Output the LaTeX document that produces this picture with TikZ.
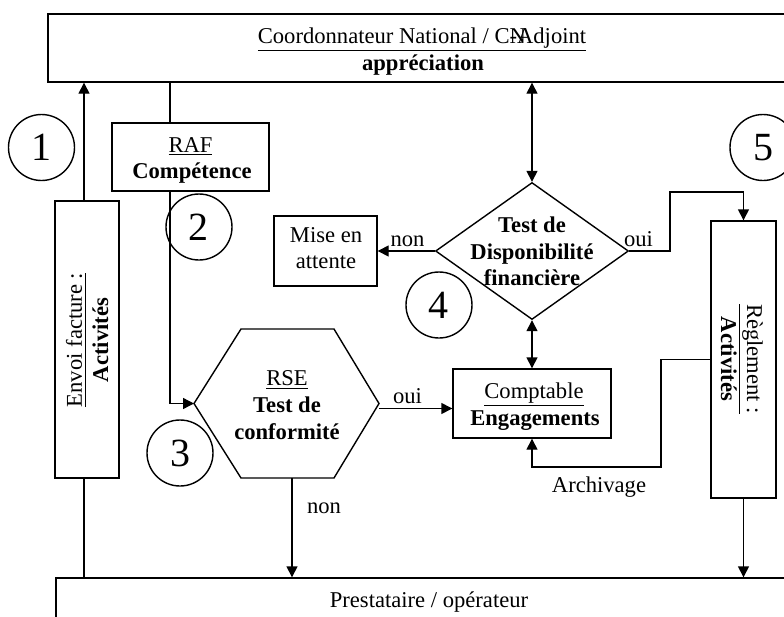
\documentclass[tikz,border=0pt]{standalone}
\usepackage{fontspec}
\setmainfont{Liberation Serif}
\usetikzlibrary{arrows.meta,shapes.geometric}
\begin{document}
\begin{tikzpicture}[x=0.5pt,y=-0.5pt,
  every node/.style={font=\fontsize{11.3}{13.6}\selectfont},
  pbox/.style={draw, line width=0.7pt, inner sep=0pt, rectangle},
  tx/.style={anchor=base, inner sep=0pt},
  tb/.style={tx, font=\fontsize{11.3}{13.6}\selectfont\bfseries},
  badge/.style={draw, circle, line width=0.7pt, minimum size=33pt, inner sep=0pt,
    font=\fontsize{20}{24}\selectfont},
  link/.style={line width=0.7pt},
  arr/.style={link, -{Triangle[length=5.5pt,width=5.5pt]}},
  dbl/.style={link, {Triangle[length=5.5pt,width=5.5pt]}-{Triangle[length=5.5pt,width=5.5pt]}},
]
\useasboundingbox (0,0) rectangle (784,617);
\clip (0,0) rectangle (784,617);

% boxes
\node[pbox, minimum width=374pt, minimum height=34pt] (top) at (422,48) {};
\node[pbox, minimum width=373pt, minimum height=36pt] (bottom) at (429,614) {};
\node[pbox, minimum width=32pt, minimum height=138.5pt] (envoi) at (87,339.5) {};
\node[pbox, minimum width=78.5pt, minimum height=34pt] (raf) at (190.5,157) {};
\node[pbox, minimum width=51.5pt, minimum height=35pt] (mise) at (325.5,251) {};
\node[draw, diamond, line width=0.7pt, inner sep=0pt, minimum width=96.5pt, minimum height=68.5pt] (dispo) at (532,251) {};
\node[pbox, minimum width=79pt, minimum height=34.5pt] (compta) at (532,403.5) {};
\node[pbox, minimum width=32.5pt, minimum height=138.5pt] (regl) at (743.5,359.5) {};

% hexagon of the conformity test
\draw[link] (194,403.5) coordinate (hexW) -- (241,329) -- (334,329)
  -- (379,403.5) coordinate (hexE) -- (334,478) -- (241,478) -- cycle;
\coordinate (hexS) at (292,478);

% texts
\node[tx] (topA) at (422,43) {\underline{Coordonnateur National / C\rlap{N}-Adjoint}};
\node[tb] (topB) at (423,70) {appréciation};
\node[tx] (botA) at (429,607) {Prestataire / opérateur};
\node[tx, rotate=90] (envA) at (82,340) {\underline{Envoi facture :}};
\node[tb, rotate=90] (envB) at (108,340) {Activités};
\node[tx] (rafA) at (190.5,152) {\underline{RAF}};
\node[tb] (rafB) at (192,178) {Compétence};
\node[tx] (miseA) at (326,242) {Mise en};
\node[tx] (miseB) at (326,268) {attente};
\node[tb] (dispA) at (532,232) {Test de};
\node[tb] (dispB) at (532,259) {Disponibilité};
\node[tb] (dispC) at (532,285) {financière};
\node[tx] (hexA) at (287,385) {\underline{RSE}};
\node[tb] (hexB) at (287,412) {Test de};
\node[tb] (hexC) at (287,439) {conformité};
\node[tx] (compA) at (534,398) {\underline{Comptable}};
\node[tb] (compB) at (535,425) {Engagements};
\node[tx, rotate=-90] (regA) at (747,359) {\underline{Règlement :}};
\node[tb, rotate=-90] (regB) at (721,359) {Activités};

% step numbers
\node[badge] (n1) at (41.5,147.5) {1};
\node[badge] (n2) at (199,227) {2};
\node[badge] (n3) at (180,453) {3};
\node[badge] (n4) at (439,305) {4};
\node[badge] (n5) at (763,147.5) {5};

% helper coordinates for connector routes
\coordinate (colA) at (84,0);
\coordinate (colB) at (170,0);
\coordinate (jog) at (670,192);
\coordinate (arch) at (661,467);

% connectors
\draw[arr] (envoi.north -| colA) -- (top.south -| colA);
\draw[link] (envoi.south -| colA) -- (bottom.north -| colA);
\draw[link] (top.south -| colB) -- (raf.north -| colB);
\draw[arr] (raf.south -| colB) |- (hexW);
\draw[arr] ([yshift=-2.5pt]hexE) -- ([yshift=-2.5pt]hexE -| compta.west);
\draw[arr] (hexS) -- (hexS |- bottom.north);
\draw[dbl] (dispo.north |- top.south) -- (dispo.north);
\draw[dbl] (dispo.south) -- (compta.north);
\draw[arr] (dispo.west) -- (mise.east);
\draw[arr] (dispo.east) -| (jog) -- (jog -| regl.north) -- (regl.north);
\draw[arr] (regl.west) -| (arch) -| (compta.south);
\draw[arr] (regl.south) -- (regl.south |- bottom.north);

% connector labels
\node[tx] (lOui1) at (407.5,403) {oui};
\node[tx] (lNon1) at (324,513) {non};
\node[tx] (lNon2) at (407.5,246) {non};
\node[tx] (lOui2) at (638.5,246) {oui};
\node[tx] (lArch) at (599,492) {Archivage};
\end{tikzpicture}
\end{document}
